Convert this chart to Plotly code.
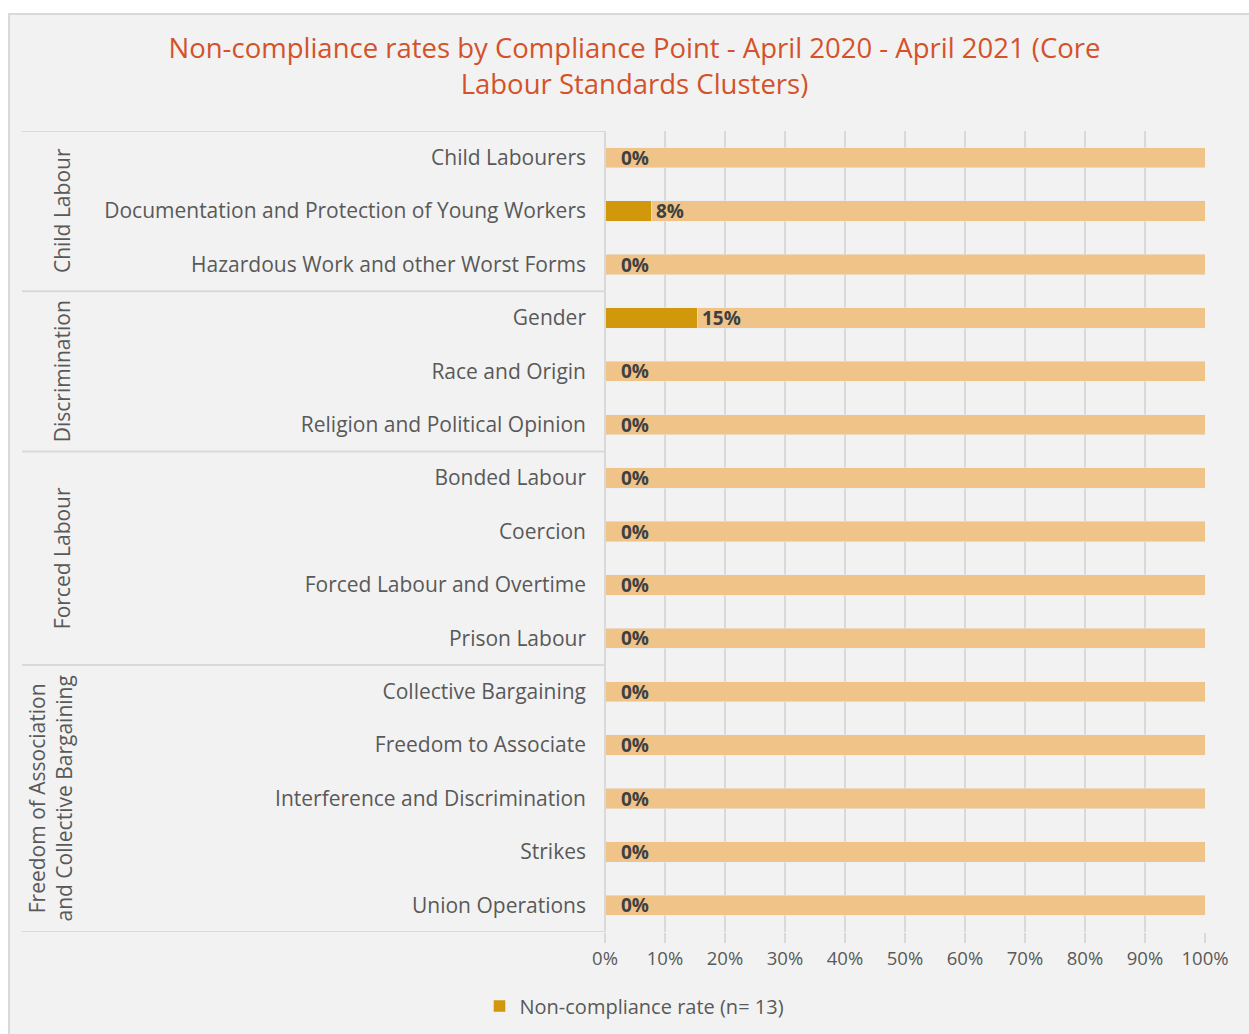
import plotly.graph_objects as go

categories = [
    "Child Labourers",
    "Documentation and Protection of Young Workers",
    "Hazardous Work and other Worst Forms",
    "Gender",
    "Race and Origin",
    "Religion and Political Opinion",
    "Bonded Labour",
    "Coercion",
    "Forced Labour and Overtime",
    "Prison Labour",
    "Collective Bargaining",
    "Freedom to Associate",
    "Interference and Discrimination",
    "Strikes",
    "Union Operations",
]
noncompliance = [0, 7.7, 0, 15.4, 0, 0, 0, 0, 0, 0, 0, 0, 0, 0, 0]
value_labels = ["0%", "8%", "0%", "15%", "0%", "0%", "0%", "0%", "0%", "0%", "0%", "0%", "0%", "0%", "0%"]
groups = ["Child Labour", "Discrimination", "Forced Labour", "Freedom of Association<br>and Collective Bargaining"]
group_sizes = [3, 3, 4, 5]
x_ticks = [0, 10, 20, 30, 40, 50, 60, 70, 80, 90, 100]
x_tick_labels = ["0%", "10%", "20%", "30%", "40%", "50%", "60%", "70%", "80%", "90%", "100%"]

DARK = "#D2980C"
LIGHT = "#F0C488"
GRID = "#D9D9D9"
TEXT = "#595959"
FONT = "Open Sans"

W, H = 1249, 1034
ML, MR, MT, MB = 605, 44, 131, 102
PW, PH = W - ML - MR, H - MT - MB


def px_x(p):
    return (p - ML) / PW


def px_y(p):
    return (H - MB - p) / PH


fig = go.Figure()
fig.add_trace(go.Bar(
    y=categories, x=noncompliance, orientation="h", marker_color=DARK,
    name="Non-compliance rate (n= 13)", width=0.38, showlegend=True,
))
fig.add_trace(go.Bar(
    y=categories, x=[100 - v for v in noncompliance], orientation="h", marker_color=LIGHT,
    name="Compliance", width=0.38, showlegend=False,
))

annotations = []
for cat, v, lab in zip(categories, noncompliance, value_labels):
    annotations.append(dict(
        x=v, y=cat, xref="x", yref="y", text="<b>" + lab + "</b>", showarrow=False,
        xanchor="left", xshift=14 if v == 0 else 3,
        font=dict(family=FONT, size=19, color="#404040"),
    ))

shapes = []
# outer panel
shapes.append(dict(type="rect", xref="paper", yref="paper",
                   x0=px_x(9), x1=px_x(1260), y0=px_y(1040), y1=px_y(14),
                   fillcolor="#F2F2F2", line=dict(color="#D9D9D9", width=2), layer="below"))
# group separators
start = 0
bounds = [-0.5]
for s in group_sizes:
    start += s
    bounds.append(start - 0.5)
for b in bounds:
    shapes.append(dict(type="line", xref="paper", yref="y", x0=px_x(22), x1=0, y0=b, y1=b,
                       line=dict(color=GRID, width=2)))
shapes.append(dict(type="line", xref="paper", yref="y", x0=0, x1=0, y0=-0.5, y1=14.5,
                   line=dict(color=GRID, width=2)))

start = 0
for g, s in zip(groups, group_sizes):
    center = start + (s - 1) / 2
    start += s
    annotations.append(dict(
        x=px_x(50 if "<br>" in g else 62), y=center, xref="paper", yref="y", text=g,
        showarrow=False, textangle=-90, xanchor="center", yanchor="middle",
        font=dict(family=FONT, size=21, color=TEXT),
    ))

fig.update_layout(
    width=W, height=H,
    margin=dict(l=ML, r=MR, t=MT, b=MB),
    barmode="stack",
    paper_bgcolor="white",
    plot_bgcolor="rgba(0,0,0,0)",
    title=dict(
        text="Non-compliance rates by Compliance Point - April 2020 - April 2021 (Core<br>Labour Standards Clusters)",
        x=0.508, xanchor="center", y=1 - 58 / H, yanchor="middle",
        font=dict(family=FONT, size=27.5, color="#D4522A"),
    ),
    font=dict(family=FONT, color=TEXT),
    xaxis=dict(
        range=[0, 100], tickvals=x_ticks, ticktext=x_tick_labels,
        showgrid=True, gridcolor=GRID, gridwidth=2, zeroline=False,
        ticks="outside", ticklen=10, tickcolor=GRID, tickwidth=2,
        tickfont=dict(family=FONT, size=18.5, color=TEXT), showline=False,
    ),
    yaxis=dict(
        type="category", categoryorder="array", categoryarray=categories,
        range=[14.5, -0.5], showgrid=False, zeroline=False, showline=False,
        ticks="", ticklabelstandoff=18,
        tickfont=dict(family=FONT, size=21, color=TEXT),
    ),
    legend=dict(
        orientation="h", xref="container", yref="container", x=0.508, xanchor="center",
        y=1 - 1006 / H, yanchor="middle", font=dict(family=FONT, size=20, color=TEXT),
        bgcolor="rgba(0,0,0,0)", itemwidth=30,
    ),
    shapes=shapes,
    annotations=annotations,
    bargap=0.62,
)

fig.write_html("out.html")
